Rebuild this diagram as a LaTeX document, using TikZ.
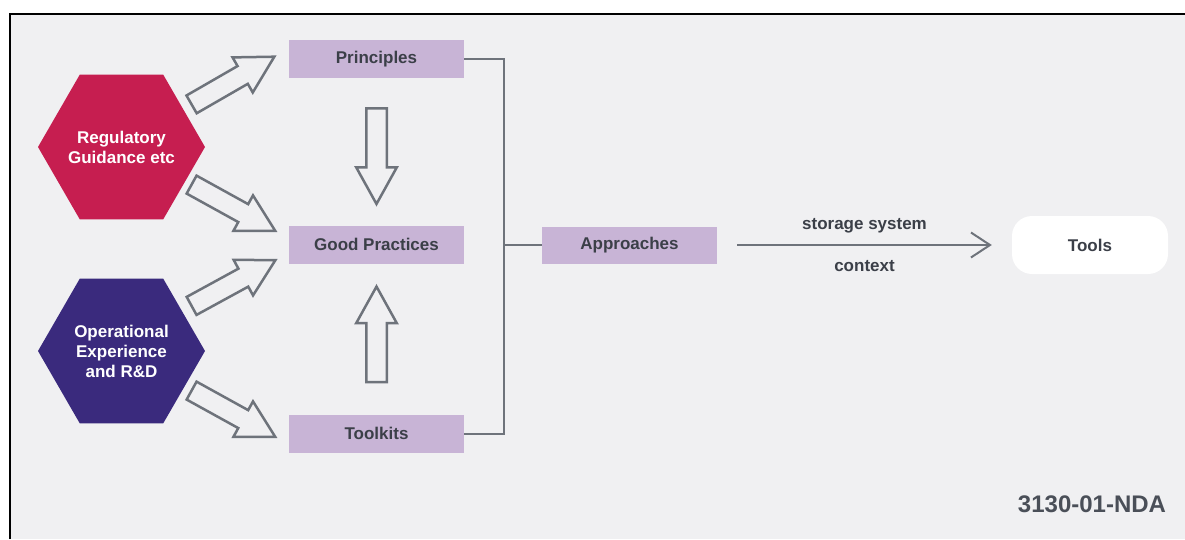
\documentclass[tikz,border=0pt]{standalone}
\usepackage{fontspec}
\setmainfont{Liberation Sans}
\usetikzlibrary{shapes.geometric,shapes.arrows,arrows.meta}

\definecolor{bgpanel}{HTML}{F0F0F2}
\definecolor{regred}{HTML}{C61E50}
\definecolor{oppurple}{HTML}{3A2A7D}
\definecolor{lilac}{HTML}{C8B4D6}
\definecolor{linegray}{HTML}{6E737B}
\definecolor{textgray}{HTML}{3B3F48}
\definecolor{idgray}{HTML}{4A4F58}

\begin{document}
\begin{tikzpicture}[x=1pt,y=-1pt,
	hexnode/.style={regular polygon, regular polygon sides=6, minimum size=167pt, inner sep=-12pt, outer sep=0pt, text=white, align=center, font=\fontsize{17}{20}\selectfont\bfseries},
	stagebox/.style={fill=lilac, minimum width=175pt, minimum height=38pt, inner sep=0pt, text=textgray, font=\fontsize{17}{20}\selectfont\bfseries},
	hollowarrow/.style={single arrow, draw=linegray, line width=2.5pt, fill=bgpanel, minimum height=95.5pt, minimum width=39pt, single arrow head extend=10pt, single arrow tip angle=58, inner xsep=0pt, inner ysep=9pt, sloped, allow upside down, pos=0, anchor=tail},
	link/.style={draw=linegray, line width=2pt},
	flowlabel/.style={text=textgray, font=\fontsize{17}{20}\selectfont\bfseries}]
		\useasboundingbox (0,0) rectangle (1185,539);
		\fill[bgpanel] (10,14) rectangle (1185,539);
		\draw[black, line width=2.5pt] (10,539) -- (10,14) -- (1185,14);

		% sources
		\node[hexnode, fill=regred] (reg) at (121.5,147) {Regulatory\\Guidance etc};
		\node[hexnode, fill=oppurple] (oper) at (121.5,351) {Operational\\Experience\\and R\&D};

		% stages
		\node[stagebox] (prin) at (376.5,59) {Principles};
		\node[stagebox] (good) at (376.5,244.5) {Good Practices};
		\node[stagebox] (tool) at (376.5,433.5) {Toolkits};
		\node[stagebox, minimum height=37pt] (appr) at (629.5,245) {Approaches};
		\node[fill=white, rounded corners=20pt, minimum width=156pt, minimum height=58pt, flowlabel] (tools) at (1090,245) {Tools};

		% hollow arrows
		\path ([shift={(69,-42)}]reg.center) -- node[hollowarrow] (a1) {} ([shift={(-15,-2)}]prin.west);
		\path ([shift={(69,37)}]reg.center) -- node[hollowarrow] (a2) {} ([shift={(-15,-14.5)}]good.west);
		\path ([shift={(69,-44.5)}]oper.center) -- node[hollowarrow] (a3) {} ([shift={(-15,16.5)}]good.west);
		\path ([shift={(69,39)}]oper.center) -- node[hollowarrow] (a4) {} ([shift={(-15,2.5)}]tool.west);
		\path ([shift={(0,29)}]prin.south) -- node[hollowarrow] (down) {} ([shift={(0,-23)}]good.north);
		\path ([shift={(0,-31)}]tool.north) -- node[hollowarrow] (up) {} ([shift={(0,24)}]good.south);

		% connectors
		\coordinate (join) at (504,245);
		\draw[link] (prin.east) -| (join) |- (tool.east);
		\draw[link] (join) -- (appr.west);
		\draw[link, -{Straight Barb[length=19pt,width=25pt]}] ([xshift=20pt]appr.east) -- ([xshift=-20pt]tools.west)
			node[midway, yshift=19pt, flowlabel] (ctxtop) {storage system}
			node[midway, yshift=-21pt, flowlabel] (ctxbot) {context};

		\node[font=\fontsize{24}{28}\selectfont\bfseries, text=idgray] (figid) at (1092,504) {3130-01-NDA};
	\end{tikzpicture}
\end{document}
